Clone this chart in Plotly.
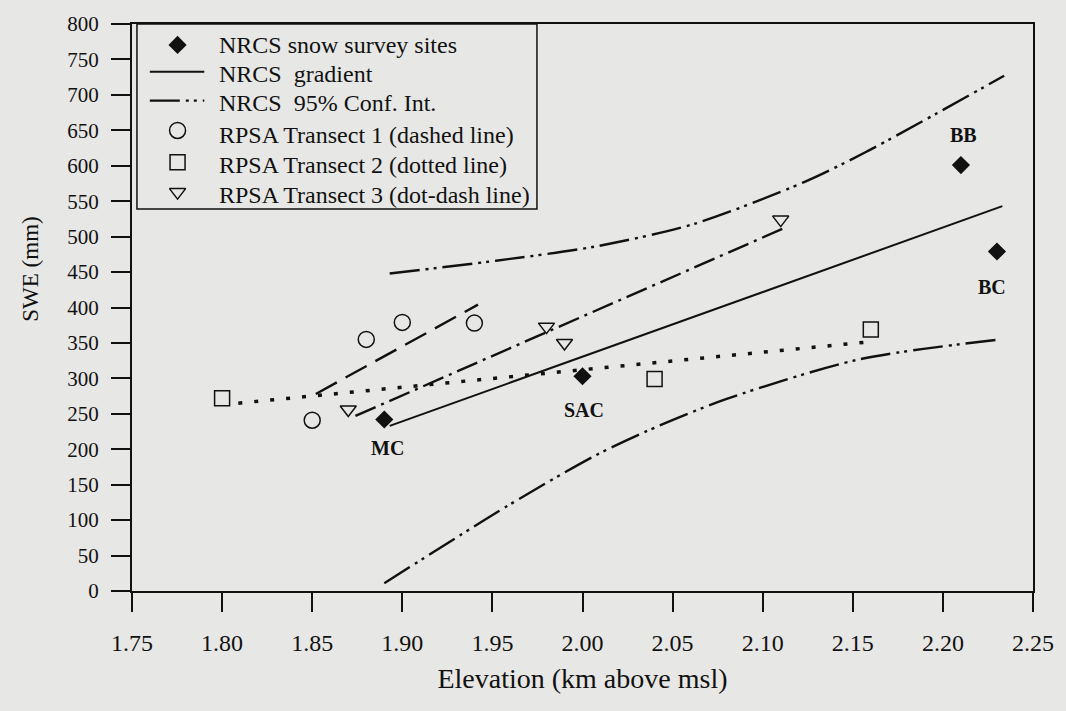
import plotly.graph_objects as go

# NRCS snow survey sites
site_names = ["MC", "SAC", "BB", "BC"]
site_elev = [1.89, 2.00, 2.21, 2.23]
site_swe = [242, 303, 601, 479]

# NRCS regression gradient (end points)
grad_elev = [1.893, 2.233]
grad_swe = [233, 543]

# NRCS 95% confidence interval
ci_upper_elev = [1.893, 1.952, 2.007, 2.062, 2.123, 2.157, 2.234]
ci_upper_swe = [448, 466, 486, 518, 577, 619, 727]
ci_lower_elev = [1.890, 1.959, 2.007, 2.036, 2.080, 2.154, 2.232]
ci_lower_swe = [11, 121, 191, 226, 271, 327, 355]

# RPSA transects: points and fitted lines
t1_elev = [1.85, 1.88, 1.90, 1.94]
t1_swe = [241, 355, 379, 378]
t1_fit_elev = [1.852, 1.942]
t1_fit_swe = [278, 404]

t2_elev = [1.80, 2.04, 2.16]
t2_swe = [272, 299, 369]
t2_fit_elev = [1.809, 2.157]
t2_fit_swe = [265, 351]

t3_elev = [1.87, 1.98, 1.99, 2.11]
t3_swe = [256, 373, 350, 524]
t3_fit_elev = [1.874, 2.111]
t3_fit_swe = [247, 511]

x_ticks = [1.75, 1.80, 1.85, 1.90, 1.95, 2.00, 2.05, 2.10, 2.15, 2.20, 2.25]
y_ticks = list(range(0, 801, 50))

legend_labels = [
    "NRCS snow survey sites",
    "NRCS\u00a0 gradient",
    "NRCS\u00a0 95% Conf. Int.",
    "RPSA Transect 1 (dashed line)",
    "RPSA Transect 2 (dotted line)",
    "RPSA Transect 3 (dot-dash line)",
]

INK = "#111111"
PAPER = "#e7e7e5"
SERIF = "Liberation Serif"
CI_DASH = "30px,6px,3px,5px,3px,6px"

# marker styles shared by the plot and its key
DIAMOND = dict(symbol="diamond", size=14, color=INK, opacity=1, line=dict(width=0))
CIRCLE = dict(symbol="circle-open", size=16, color=INK, opacity=1, line=dict(width=1.5, color=INK))
SQUARE = dict(symbol="square-open", size=15, color=INK, opacity=1, line=dict(width=1.5, color=INK))
TRIANGLE = dict(symbol="triangle-down-open", size=14, color=INK, opacity=1, line=dict(width=1.5, color=INK))

# plot area in page pixels (used by the key overlay axes)
PL, PR, PT, PB = 132, 1042, 21, 591

fig = go.Figure()

fig.add_trace(go.Scatter(x=site_elev, y=site_swe, mode="markers", marker=DIAMOND))
fig.add_trace(go.Scatter(
    x=grad_elev, y=grad_swe, mode="lines",
    line=dict(color=INK, width=2),
))
fig.add_trace(go.Scatter(
    x=ci_upper_elev + [None] + ci_lower_elev,
    y=ci_upper_swe + [None] + ci_lower_swe,
    mode="lines",
    line=dict(color=INK, width=2.4, dash=CI_DASH, shape="spline", smoothing=0.8),
))
fig.add_trace(go.Scatter(x=t1_elev, y=t1_swe, mode="markers", marker=CIRCLE))
fig.add_trace(go.Scatter(x=t2_elev, y=t2_swe, mode="markers", marker=SQUARE))
fig.add_trace(go.Scatter(x=t3_elev, y=t3_swe, mode="markers", marker=TRIANGLE))

# transect fit lines
fig.add_trace(go.Scatter(
    x=t1_fit_elev, y=t1_fit_swe, mode="lines",
    line=dict(color=INK, width=2.4, dash="24px,10px"),
))
fig.add_trace(go.Scatter(
    x=t2_fit_elev, y=t2_fit_swe, mode="lines",
    line=dict(color=INK, width=3.5, dash="4px,12px"),
))
fig.add_trace(go.Scatter(
    x=t3_fit_elev, y=t3_fit_swe, mode="lines",
    line=dict(color=INK, width=2.4, dash="22px,6px,3px,6px"),
))

# site labels
label_shift = {"MC": (3, -29), "SAC": (1, -34), "BB": (3, 30), "BC": (-5, -35)}
for name, xe, ys in zip(site_names, site_elev, site_swe):
    dx, dy = label_shift[name]
    fig.add_annotation(
        x=xe, y=ys, text=name, showarrow=False, xshift=dx, yshift=dy,
        font=dict(family=SERIF, size=20, color=INK, weight="bold"),
    )

# ---- key box, drawn on pixel-scaled overlay axes ----
key_left, key_top, key_right, key_bottom = 137, 21, 541, 207
sym_x, line_x0, line_x1, text_x = 178, 150, 205, 218
sym_rows = [42, 69, 98, 128, 160, 190]
text_rows = [42, 71, 100, 133, 163, 193]

fig.add_shape(type="rect", xref="x2", yref="y2",
              x0=key_left, x1=key_right, y0=key_top, y1=key_bottom,
              line=dict(color=INK, width=1.5), fillcolor=PAPER, layer="below")
for row, style in zip([0, 3, 4, 5], [DIAMOND, CIRCLE, SQUARE, TRIANGLE]):
    fig.add_trace(go.Scatter(
        x=[sym_x], y=[sym_rows[row]], xaxis="x2", yaxis="y2",
        mode="markers", marker=style,
    ))
fig.add_shape(type="line", xref="x2", yref="y2",
              x0=line_x0, x1=line_x1, y0=sym_rows[1], y1=sym_rows[1],
              line=dict(color=INK, width=2), layer="above")
fig.add_shape(type="line", xref="x2", yref="y2",
              x0=line_x0, x1=line_x1, y0=sym_rows[2], y1=sym_rows[2],
              line=dict(color=INK, width=2.2, dash=CI_DASH), layer="above")
for label, ty in zip(legend_labels, text_rows):
    fig.add_annotation(
        x=text_x, y=ty, xref="x2", yref="y2", text=label, showarrow=False,
        xanchor="left", yanchor="middle",
        font=dict(family=SERIF, size=24, color=INK),
    )

# y-axis title
fig.add_annotation(
    x=(30 - PL) / (PR - PL), y=(PB - 268) / (PB - PT), xref="paper", yref="paper",
    text="SWE (mm)", textangle=-90, showarrow=False,
    xanchor="center", yanchor="middle",
    font=dict(family=SERIF, size=23, color=INK),
)

fig.update_layout(
    width=1066, height=711,
    margin=dict(l=PL, r=1066 - PR, t=PT, b=711 - PB),
    paper_bgcolor=PAPER, plot_bgcolor=PAPER,
    font=dict(family=SERIF, color=INK),
    showlegend=False,
    xaxis=dict(
        range=[1.75, 2.25], tickvals=x_ticks,
        ticktext=[f"{v:.2f}" for v in x_ticks],
        showgrid=False, zeroline=False,
        showline=True, linecolor=INK, linewidth=2, mirror=True,
        ticks="outside", ticklen=19, tickwidth=1.5, tickcolor=INK,
        tickfont=dict(family=SERIF, size=24, color=INK),
        ticklabelstandoff=10,
        title=dict(text="Elevation (km above msl)",
                   font=dict(family=SERIF, size=28, color=INK), standoff=14),
    ),
    yaxis=dict(
        range=[0, 800], tickvals=y_ticks,
        showgrid=False, zeroline=False,
        showline=True, linecolor=INK, linewidth=2, mirror=True,
        ticks="outside", ticklen=19, tickwidth=1.5, tickcolor=INK,
        tickfont=dict(family=SERIF, size=21, color=INK),
        ticklabelstandoff=8,
    ),
    xaxis2=dict(overlaying="x", anchor="y2", range=[PL, PR], visible=False,
                fixedrange=True),
    yaxis2=dict(overlaying="y", anchor="x2", range=[PB, PT], visible=False,
                fixedrange=True),
)

fig.write_html("out.html")
